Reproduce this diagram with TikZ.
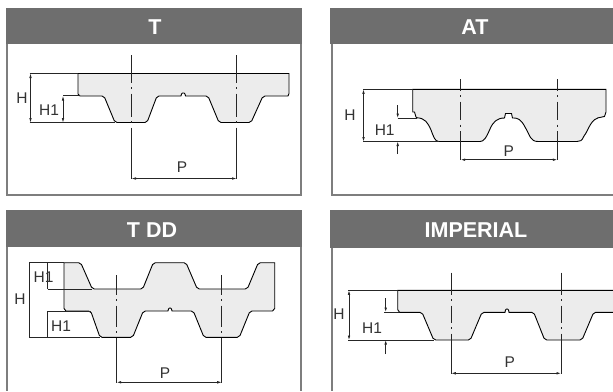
\documentclass[tikz,border=0pt]{standalone}
\usepackage{fontspec}
\setmainfont{Liberation Sans}
\usetikzlibrary{arrows.meta}
\definecolor{headgray}{HTML}{6E6E6E}
\definecolor{framegray}{HTML}{7E7E7E}
\definecolor{beltgray}{HTML}{ECECEC}
\tikzset{
  x=1pt,y=-1pt,
  header/.style={fill=headgray,draw=none},
  frameline/.style={draw=framegray,line width=2pt},
  headtext/.style={text=white,font=\fontsize{21.5}{22}\selectfont\bfseries,inner sep=0pt},
  dimtext/.style={text=black!80,font=\fontsize{15.5}{16}\selectfont,inner sep=0pt},
  belt/.style={fill=beltgray,draw=black,line width=0.9pt,rounded corners=2pt},
  smoothbelt/.style={fill=beltgray,draw=black,line width=0.9pt},
  thin dim/.style={draw=black!85,line width=0.7pt},
  dimarrow/.style={thin dim,{Latex[length=4.5pt,width=2.6pt]}-{Latex[length=4.5pt,width=2.6pt]}},
  onearrow/.style={thin dim,-{Latex[length=4.5pt,width=2.6pt]}},
  centre/.style={draw=black!85,line width=0.75pt},
}
% centre line: x, top, bottom, dots y1,y2
\newcommand{\centreln}[5]{%
  \draw[centre] (#1,#2) -- (#1,#4-5.5);
  \draw[centre] (#1,#4-1) -- (#1,#4+1);
  \draw[centre] (#1,#4+5.5) -- (#1,#5-5.5);
  \draw[centre] (#1,#5-1) -- (#1,#5+1);
  \draw[centre] (#1,#5+5.5) -- (#1,#3);
}
\begin{document}
\begin{tikzpicture}
\useasboundingbox (0,0) rectangle (613,391);
\fill[white] (0,0) rectangle (613,391);

% ---------- panel T
\draw[frameline] (7,44) -- (7,194.5) -- (301,194.5) -- (301,44);
\fill[header] (6,8) rectangle (302,44);
\node[headtext] (tT) at (155,27) {T};
\path[belt] (78,73.5) [sharp corners] -- (289,73.5) -- (289,93.5) -- (288,96) [rounded corners=2pt] -- (263,96) -- (251,122.5) -- (219,122.5) -- (208,96)
  [sharp corners] -- (185.5,96) -- (185,94) -- (184,93) -- (182.5,93) -- (181.5,94) -- (181,96) [rounded corners=2pt] -- (157,96) -- (147,122.5) -- (115,122.5) -- (104,96) [sharp corners] -- (80,96) -- (78,94) -- cycle;
\draw[black,line width=1.2pt] (78,73.5) -- (108,73.5);
\draw[thin dim] (29.5,73) -- (78,73) (29.5,122.5) -- (115,122.5) (63,95.5) -- (80,95.5);
\draw[dimarrow] (30.5,73.5) -- (30.5,122.5);
\draw[dimarrow] (63,96) -- (63,122.5);
\centreln{131.5}{55}{178.5}{88}{122}
\centreln{236.5}{55}{178.5}{88}{122}
\draw[dimarrow] (131.5,178.5) -- (236.5,178.5);
\node[dimtext] (tTH) at (22,98) {H};
\node[dimtext] (tTHa) at (49,110) {H1};
\node[dimtext] (tTP) at (182,167) {P};

% ---------- panel AT
\draw[frameline] (331.5,44) -- (331.5,194.5) -- (613,194.5);
\fill[header] (330,8) rectangle (613,44);
\node[headtext] (tA) at (475,27) {AT};
\path[smoothbelt] (412.7,89.3) -- (606,89.3) -- (606,112) -- (604.5,116.5) -- (602,117)
  .. controls (590,118) and (589,130) .. (584,136) .. controls (582,141) and (580,141.5) .. (577,141.5)
  -- (538,141.5) .. controls (530,141.5) and (530,135) .. (525,127) .. controls (521,119) and (517,118) .. (514,118)
  -- (512.5,118) -- (511.5,113.5) -- (505.5,113.5) -- (504.5,118)
  .. controls (497,118) and (493,122) .. (490,129) .. controls (486,138) and (484,141.5) .. (480,141.5)
  -- (438.7,141.5) .. controls (435,141) and (434,138) .. (431,130) .. controls (428,123) and (425,118) .. (417,117.8)
  -- (416,117) -- (414.5,112) -- (412.7,112) -- cycle;
\draw[thin dim] (363,89.3) -- (412.7,89.3) (363,141.5) -- (439,141.5) (397.5,118) -- (417,118);
\draw[dimarrow] (363.5,89.3) -- (363.5,141.5);
\coordinate (a1) at (397.7,105);
\coordinate (a2) at (397.7,118);
\coordinate (a3) at (397.7,154);
\coordinate (a4) at (397.7,141.5);
\draw[onearrow] (a1) -- (a2);
\draw[onearrow] (a3) -- (a4);
\centreln{460.7}{79}{160}{96}{125.5}
\centreln{557.3}{79}{160}{96}{125.5}
\draw[dimarrow] (460.7,159.7) -- (557.3,159.7);
\node[dimtext] (tAH) at (350,115.5) {H};
\node[dimtext] (tAHa) at (384.7,130) {H1};
\node[dimtext] (tAP) at (508.7,151) {P};

% ---------- panel T DD
\draw[frameline] (7,247) -- (7,391) (301,247) -- (301,391);
\fill[header] (6,210) rectangle (302,247);
\node[headtext] (tD) at (152,230) {T DD};
\path[belt] (64,262.7) [rounded corners=2pt] -- (80.7,262.7) -- (92.3,289) -- (142.7,289) -- (153.3,262.7) -- (186,262.7) -- (197.3,289)
  -- (247.3,289) -- (258.3,262.7) [sharp corners] -- (274.7,262.7) -- (274.7,308.5) -- (272.5,311) [rounded corners=2pt] -- (250,311) -- (239.3,337.3) -- (204,337.3) -- (193.3,311)
  [sharp corners] -- (172,311) -- (171.5,309) -- (170.5,308) -- (169.5,308) -- (168.5,309) -- (168,311) [rounded corners=2pt] -- (143.3,311) -- (132.7,337.3) -- (100,337.3) -- (90.7,311) [sharp corners] -- (66,311) -- (64,308.5) -- cycle;
\draw[thin dim] (29,262.7) -- (64,262.7) (29,337.3) -- (100,337.3) (47.7,289) -- (92,289) (47.7,311) -- (90.7,311);
\draw[thin dim] (29.5,262.7) -- (29.5,337.3);
\draw[thin dim] (47.7,262.7) -- (47.7,289) (47.7,311) -- (47.7,337.3);
\centreln{116.7}{275}{382.5}{300}{332}
\centreln{221.7}{275}{382.5}{300}{332}
\draw[dimarrow] (116.7,382.3) -- (221.7,382.3);
\node[dimtext] (tDH) at (20,299) {H};
\node[dimtext] (tDHa) at (43.5,276.7) {H1};
\node[dimtext] (tDHb) at (61,326) {H1};
\node[dimtext] (tDP) at (165,373) {P};

% ---------- panel IMPERIAL
\draw[frameline] (331.5,248) -- (331.5,391);
\fill[header] (330,210) rectangle (613,248);
\node[headtext] (tI) at (476,230) {IMPERIAL};
\path[belt] (616,290.3) [sharp corners] -- (397.7,290.3) -- (397.7,309.5) -- (399.5,312.3) [rounded corners=2pt] -- (422,312.3) -- (433.7,340) -- (470.3,340) -- (482,312.3)
  [sharp corners] -- (505,312.3) -- (505.5,310) -- (506.5,309) -- (507.5,309) -- (508.5,310) -- (509,312.3) [rounded corners=2pt] -- (533.7,312.3) -- (544.7,340) -- (582,340) -- (593.7,312.3) -- (616,312.3);
\draw[thin dim] (348,290.3) -- (397.7,290.3) (348,340) -- (434,340) (384,312.3) -- (399,312.3);
\draw[dimarrow] (349,290.3) -- (349,340);
\coordinate (i1) at (385.7,298);
\coordinate (i2) at (385.7,312);
\coordinate (i3) at (385.7,354);
\coordinate (i4) at (385.7,340);
\draw[onearrow] (i1) -- (i2);
\draw[onearrow] (i3) -- (i4);
\centreln{451.3}{272.7}{373.5}{300}{328}
\centreln{561}{272.7}{373.5}{300}{328}
\draw[dimarrow] (451.3,373.3) -- (561,373.3);
\node[dimtext] (tIH) at (339,314) {H};
\node[dimtext] (tIHa) at (372,328) {H1};
\node[dimtext] (tIP) at (509.7,361.7) {P};
\end{tikzpicture}
\end{document}
